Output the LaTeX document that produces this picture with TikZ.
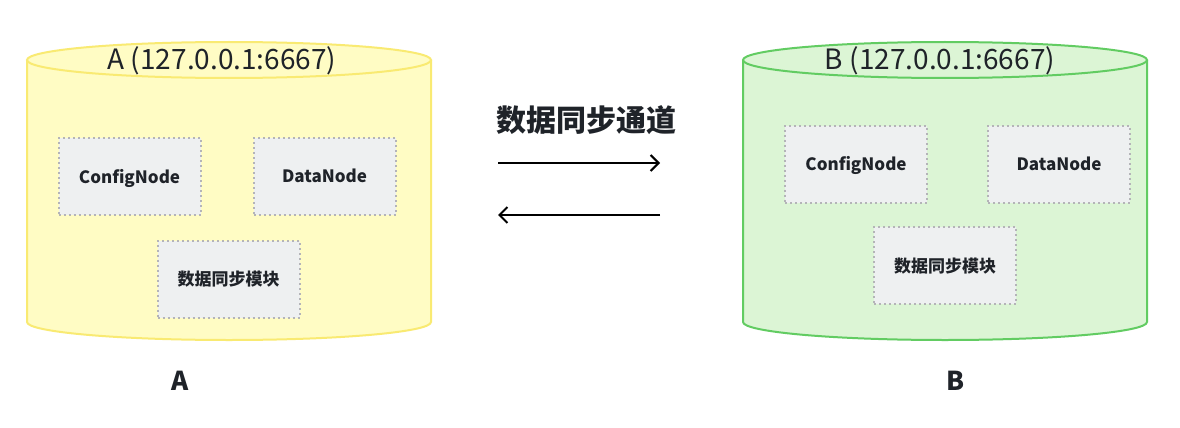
\documentclass[tikz,border=0pt]{standalone}
\usepackage{fontspec}
\setmainfont{Noto Sans CJK SC}
\usetikzlibrary{arrows.meta}
\definecolor{yfill}{HTML}{FFFCC4}
\definecolor{ystroke}{HTML}{F9EA72}
\definecolor{gfill}{HTML}{DCF5D5}
\definecolor{gstroke}{HTML}{62CC62}
\definecolor{boxfill}{HTML}{EEF0F1}
\definecolor{boxline}{HTML}{B4B4B8}
\definecolor{txt}{HTML}{1F2329}
\tikzset{
  modbox/.style={draw=boxline, line width=2pt, dash pattern=on 2pt off 3pt, fill=boxfill,
    minimum width=142pt, minimum height=77pt, inner sep=0pt, text depth=1pt,
    font=\fontsize{17}{20}\selectfont\bfseries, text=txt},
  cyltitle/.style={font=\fontsize{28}{32}\selectfont, text=txt, inner sep=0pt},
  biglabel/.style={font=\fontsize{26}{30}\selectfont\bfseries, text=txt, inner sep=0pt},
  chan/.style={line width=2pt, -{Straight Barb[length=8pt,width=16pt,line width=2pt]}}
}
\begin{document}
\begin{tikzpicture}[x=1pt,y=-1pt]
\useasboundingbox[fill=white] (0,0) rectangle (1180,428);
% cylinder A
\fill[yfill] (27,60) -- (27,322) arc[start angle=180,end angle=0,x radius=202,y radius=18] -- (431,60) arc[start angle=0,end angle=-180,x radius=202,y radius=18] -- cycle;
\draw[ystroke, line width=2pt] (27,60) -- (27,322) arc[start angle=180,end angle=0,x radius=202,y radius=18] -- (431,60);
\draw[ystroke, line width=2pt] (229,60) ellipse[x radius=202,y radius=18];
% cylinder B
\fill[gfill] (743,60) -- (743,322) arc[start angle=180,end angle=0,x radius=202,y radius=18] -- (1147,60) arc[start angle=0,end angle=-180,x radius=202,y radius=18] -- cycle;
\draw[gstroke, line width=2pt] (743,60) -- (743,322) arc[start angle=180,end angle=0,x radius=202,y radius=18] -- (1147,60);
\draw[gstroke, line width=2pt] (945,60) ellipse[x radius=202,y radius=18];
% titles
\node[cyltitle] (titleA) at (222,61) {A (127.0.0.1:6667)};
\node[cyltitle] (titleB) at (940,61) {B (127.0.0.1:6667)};
% boxes A
\node[modbox] (cfgA) at (129.5,176.5) {ConfigNode};
\node[modbox] (dataA) at (324.5,176.5) {DataNode};
\node[modbox] (syncA) at (228.5,279) {数据同步模块};
% boxes B
\node[modbox] (cfgB) at (856,164) {ConfigNode};
\node[modbox] (dataB) at (1059,164) {DataNode};
\node[modbox] (syncB) at (945,265.5) {数据同步模块};
% channel
\node[font=\fontsize{30}{34}\selectfont\bfseries, text=txt, inner sep=0pt] (chanlabel) at (586,120) {数据同步通道};
\coordinate (r1) at (498,163);
\coordinate (r2) at (660,163);
\coordinate (l1) at (660,215);
\coordinate (l2) at (498,215);
\draw[chan] (r1) -- (r2);
\draw[chan] (l1) -- (l2);
% labels
\node[biglabel] (labA) at (180,381) {A};
\node[biglabel] (labB) at (956,381) {B};
\end{tikzpicture}
\end{document}
